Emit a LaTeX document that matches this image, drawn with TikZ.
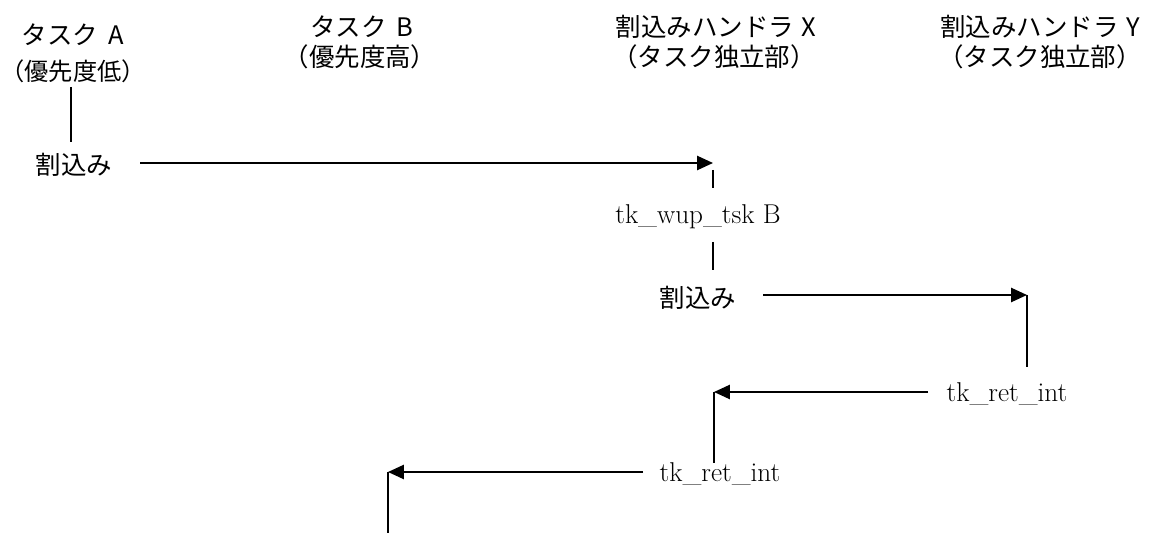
\documentclass[tikz,border=0pt]{standalone}
\usepackage{fontspec}
\newfontfamily\jpfont{Noto Sans CJK JP}
\usetikzlibrary{arrows.meta,positioning}
\tikzstyle{head} = [inner sep=0,font=\jpfont\fontsize{14.5}{17}\selectfont]
\tikzstyle{irq} = [inner sep=0,font=\jpfont\fontsize{14.5}{17}\selectfont]
\tikzstyle{call} = [inner sep=0,font=\fontsize{15.5}{18}\selectfont]
\tikzstyle{flow} = [-{Triangle[length=9pt,width=8pt]},line width=1.1pt]
\tikzstyle{life} = [-,line width=0.8pt]

\begin{document}
\begin{tikzpicture}[x=0.02cm,y=-0.02cm]
  \useasboundingbox (0,0) rectangle (1150,533);
  % headers
  \node[head] (taskA) at (73,35) {タスク\hspace{0.4em}A};
  \node[head,font=\jpfont\fontsize{13.8}{17}\selectfont] (prioA) at (73,71) {（優先度低）};
  \node[head] (taskB) at (362,27) {タスク\hspace{0.4em}B};
  \node[head] (prioB) at (360,57) {（優先度高）};
  \node[head] (hdlX) at (716,27) {割込みハンドラ\hspace{0.3em}X};
  \node[head] (indX) at (714,57) {（タスク独立部）};
  \node[head] (hdlY) at (1040,27) {割込みハンドラ\hspace{0.3em}Y};
  \node[head] (indY) at (1040,57) {（タスク独立部）};
  % events
  \node[irq] (irqA) at (74,165) {割込み};
  \node[call] (wup) at (698,217) {tk\_wup\_tsk B};
  \node[irq] (irqX) at (698,298) {割込み};
  \node[call] (retY) at (1007,394) {tk\_ret\_int};
  \node[call] (retX) at (720,474) {tk\_ret\_int};
  % ends
  \coordinate (a0) at (71,87);
  \coordinate (a1) at (71,142);
  \coordinate (s1) at (140,163);
  \coordinate (x1) at (713,163);
  \coordinate (x2) at (713,170);
  \coordinate (x3) at (713,188);
  \coordinate (x4) at (713,242);
  \coordinate (x5) at (713,270);
  \coordinate (s2) at (763,295);
  \coordinate (y1) at (1027,295);
  \coordinate (y2) at (1027,367);
  \coordinate (s3) at (928,392);
  \coordinate (x6) at (714,392);
  \coordinate (x7) at (714,463);
  \coordinate (s4) at (643,472);
  \coordinate (b1) at (388,472);
  \coordinate (b2) at (388,533);
  % task A runs
  \draw[life] (a0) -- (a1);
  \draw[flow] (s1) -- (x1);
  % handler X
  \draw[life] (x2) -- (x3);
  \draw[life] (x4) -- (x5);
  \draw[flow] (s2) -- (y1);
  % handler Y
  \draw[life] (y1) -- (y2);
  \draw[flow] (s3) -- (x6);
  \draw[life] (x6) -- (x7);
  \draw[flow] (s4) -- (b1);
  % task B runs
  \draw[life] (b1) -- (b2);
\end{tikzpicture}
\end{document}
